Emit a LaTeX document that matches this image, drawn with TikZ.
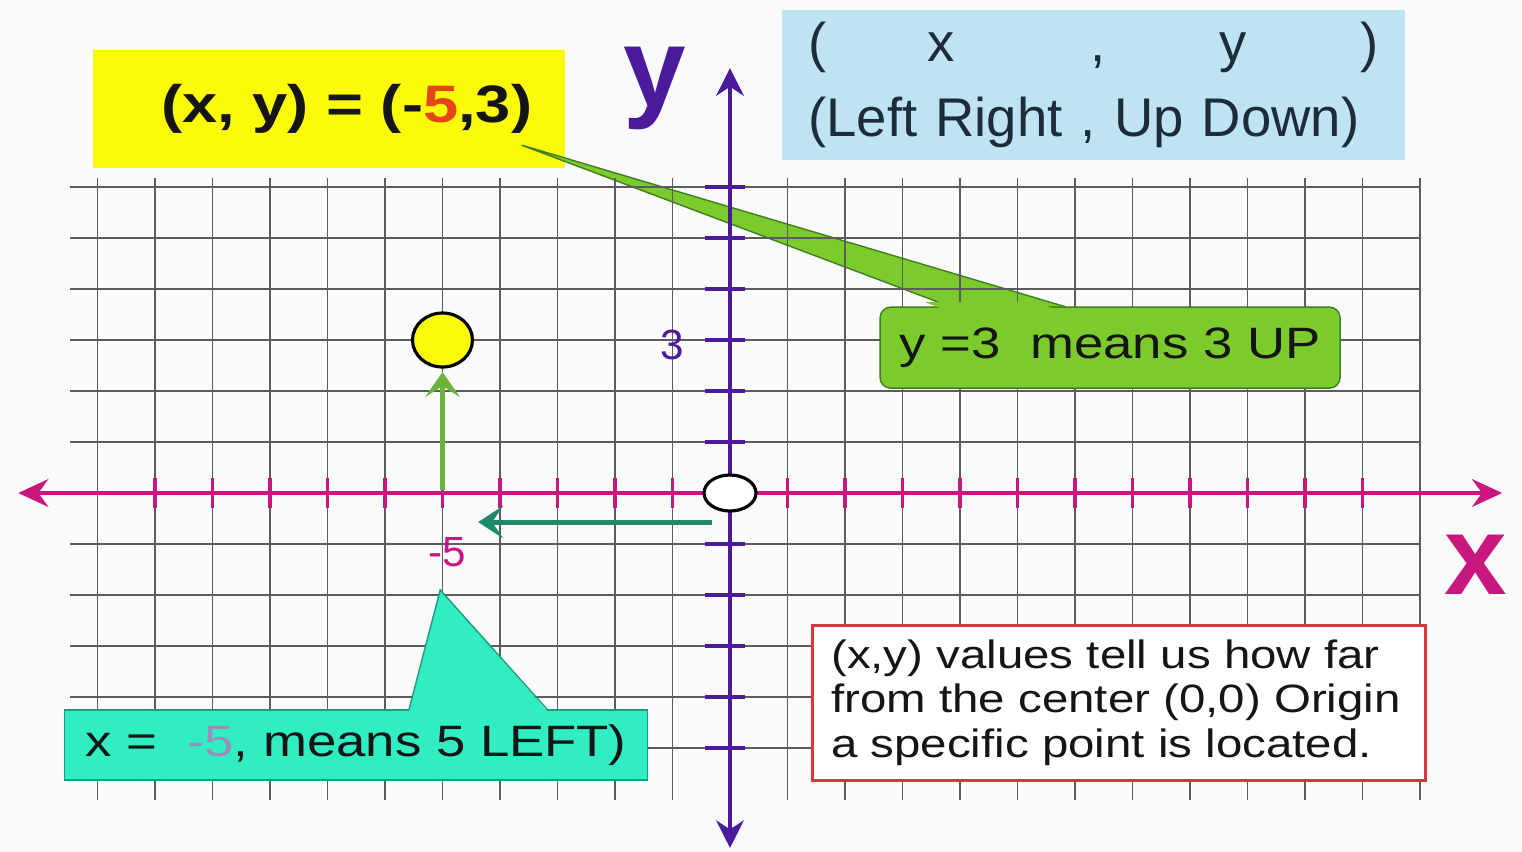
\documentclass[tikz,border=0pt]{standalone}
\usepackage{fontspec}
\setmainfont{Liberation Sans}
\newfontfamily\widesans[FakeStretch=1.2]{Liberation Sans}
\usepackage{tikz}
\usetikzlibrary{shapes.geometric,arrows.meta,positioning}
\definecolor{paper}{HTML}{FAFAFA}
\definecolor{gridgray}{HTML}{5C5C5C}
\definecolor{axismag}{HTML}{C8177E}
\definecolor{axispurple}{HTML}{4B1B9B}
\definecolor{boxyellow}{HTML}{FAFA0A}
\definecolor{boxblue}{HTML}{BEE4F4}
\definecolor{boxgreen}{HTML}{7CCB2C}
\definecolor{edgegreen}{HTML}{3F7F1C}
\definecolor{boxteal}{HTML}{30EDC2}
\definecolor{edgeteal}{HTML}{1C9C7C}
\definecolor{boxred}{HTML}{D8383C}
\definecolor{arrgreen}{HTML}{6CB33E}
\definecolor{arrteal}{HTML}{1E8A6A}
\definecolor{fivered}{HTML}{E8441A}
\definecolor{fivefade}{HTML}{A08CB8}
\definecolor{inkdark}{HTML}{151515}
\definecolor{inknavy}{HTML}{1E2B38}

\begin{document}
\begin{tikzpicture}[x=1.15cm, y=1.02cm,
  gridline/.style={draw=gridgray, line width=1.1pt},
  xaxis/.style={draw=axismag, line width=2.8pt, {Stealth[length=6mm,width=5.5mm]}-{Stealth[length=6mm,width=5.5mm]}},
  yaxis/.style={draw=axispurple, line width=2.8pt, {Stealth[length=5.5mm,width=5.5mm]}-{Stealth[length=5.5mm,width=5.5mm]}},
  xtick/.style={draw=axismag, line width=2.2pt},
  ytick/.style={draw=axispurple, line width=2pt},
  biglbl/.style={font=\fontsize{64}{64}\selectfont\bfseries, inner sep=0pt},
  numlbl/.style={font=\fontsize{24}{24}\selectfont, inner sep=0pt},
  ptdot/.style={ellipse, draw=black, line width=1.8pt, inner sep=0pt},
  uparr/.style={draw=arrgreen, line width=3.4pt, -{Stealth[length=5mm,width=7mm,inset=2.2mm]}},
  leftarr/.style={draw=arrteal, line width=2.8pt, -{Stealth[length=5mm,width=6.5mm,inset=2.2mm]}},
  pairbox/.style={fill=boxyellow, minimum width=9.44cm, minimum height=2.36cm, inner sep=0pt,
                  font=\widesans\fontsize{30}{30}\selectfont\bfseries, text=inkdark},
  orderbox/.style={fill=boxblue, minimum width=12.46cm, minimum height=3cm, text width=11.4cm, align=left,
                   font=\fontsize{31}{43}\selectfont, text=inknavy},
  upbox/.style={fill=boxgreen, draw=edgegreen, line width=0.8pt, rounded corners=6pt, minimum width=9.2cm,
                minimum height=1.62cm, font=\widesans\fontsize{25}{25}\selectfont, text=inkdark},
  leftbox/.style={fill=boxteal, draw=edgeteal, line width=0.8pt, minimum width=11.66cm, minimum height=1.4cm,
                  font=\widesans\fontsize{25}{25}\selectfont, text=inkdark},
  notebox/.style={fill=white, draw=boxred, line width=1.6pt, minimum width=12.26cm, minimum height=3.1cm,
                  text width=11.5cm, align=left, font=\widesans\fontsize{22.5}{25.5}\selectfont, text=inkdark},
  tipedge/.style={line width=0.8pt}
]
\useasboundingbox (-12.696,-7.039) rectangle (13.774,9.667);
\fill[paper] (-12.696,-7.039) rectangle (13.774,9.667);

% headings
\node[pairbox] (pair) at (-6.97,7.53) {\hspace*{0.7cm}(x, y) = (-{\color{fivered}5},3)};
\node[orderbox] (order) at (6.32,8.0) {(\hspace{\stretch{1.2}}x\hspace{\stretch{1.6}},\hspace{\stretch{1.35}}y\hspace{\stretch{1.35}})\\(Left Right , Up Down)};

% pointer of the y callout, lies under the grid
\coordinate (gtip) at (-3.62,6.82);
\coordinate (gbaseL) at (3.84,3.65);
\coordinate (gbaseR) at (5.84,3.65);
\fill[boxgreen] (gtip) -- (gbaseL) -- (gbaseR) -- cycle;
\draw[tipedge, edgegreen] (gbaseL) -- (gtip) -- (gbaseR);

% grid
\foreach \gx in {-11,...,12} \draw[gridline] (\gx,-6.02) -- (\gx,6.18);
\foreach \gy in {-5,...,6} \draw[gridline] (-11.48,\gy) -- (12,\gy);

% axes
\coordinate (xleft) at (-12.38,0);
\coordinate (xright) at (13.43,0);
\coordinate (ytop) at (0,8.33);
\coordinate (ybot) at (0,-6.96);
\foreach \tx in {-10,...,-1,1,2,...,11} \draw[xtick] (\tx,-0.3) -- (\tx,0.3);
\foreach \ty in {-5,...,-1,1,2,...,6} \draw[ytick] (-0.43,\ty) -- (0.26,\ty);
\draw[xaxis] (xleft) -- (xright);
\draw[yaxis] (ybot) -- (ytop);
\node[biglbl, text=axispurple] (ylbl) at (-1.30,7.94) {y};
\node[biglbl, text=axismag] (xlbl) at (12.97,-1.41) {x};
\node[numlbl, text=axispurple] (three) at (-1.01,2.90) {3};
\node[numlbl, text=axismag] (minusfive) at (-4.92,-1.16) {-5};

% the point and the origin
\node[ptdot, fill=boxyellow, minimum width=1.2cm, minimum height=1.08cm] (pt) at (-5,3) {};
\node[ptdot, fill=white, minimum width=1.04cm, minimum height=0.72cm] (orig) at (0,0) {};
\coordinate (xfive) at (-5,0.06);
\draw[uparr] (xfive) -- ([yshift=-2pt]pt.south);
\coordinate (leftstart) at (-0.31,-0.57);
\coordinate (leftend) at (-4.38,-0.57);
\draw[leftarr] (leftstart) -- (leftend);

% callouts
\node[upbox] (yinfo) at (6.61,2.85) {y =3\ \ means 3 UP};
\begin{scope}
  \clip ([yshift=-2pt]yinfo.north west) rectangle ([yshift=2pt]yinfo.north east);
  \fill[boxgreen] (gtip) -- ([yshift=-3pt]gbaseL) -- ([yshift=-3pt]gbaseR) -- cycle;
\end{scope}

\node[leftbox] (xinfo) at (-6.50,-4.94) {x =\ \ {\color{fivefade}-5}, means 5 LEFT)};
\coordinate (ttip) at (-5.04,-1.90);
\fill[boxteal] (ttip) -- ([xshift=6.9cm,yshift=-1pt]xinfo.north west) -- ([xshift=9.66cm,yshift=-1pt]xinfo.north west) -- cycle;
\draw[tipedge, edgeteal] ([xshift=6.9cm]xinfo.north west) -- (ttip) -- ([xshift=9.66cm]xinfo.north west);

\node[notebox] (note) at (6.76,-4.11) {(x,y) values tell us how far\\from the center (0,0) Origin\\a specific point is located.};
\end{tikzpicture}
\end{document}
